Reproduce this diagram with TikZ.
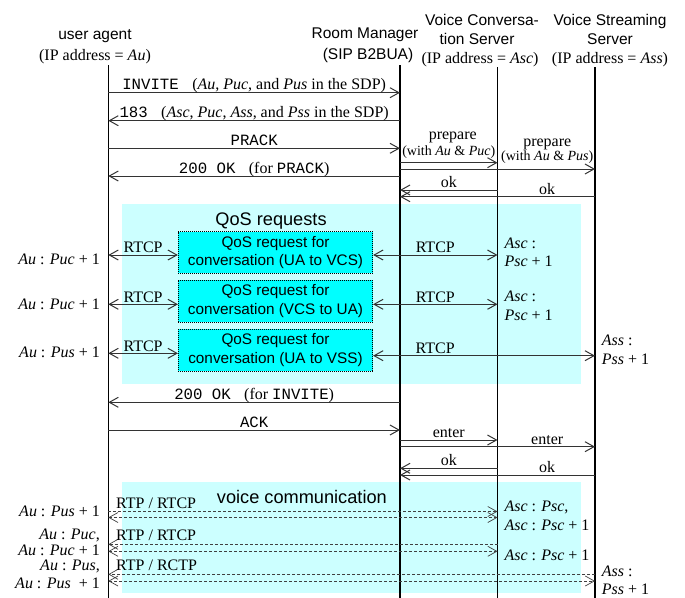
\documentclass[tikz,border=0pt]{standalone}
\usepackage{fontspec}
\setmainfont{Liberation Serif}
\setsansfont{Liberation Sans}
\setmonofont{Liberation Mono}
\usepackage{xcolor}
\usetikzlibrary{arrows.meta}

\definecolor{areabg}{HTML}{CCFFFF}
\definecolor{qosfill}{HTML}{00FFFF}
\newcommand{\sipmsg}[1]{{\fontsize{15.7}{19}\ttfamily #1}}

\tikzset{
  lifeline/.style={line width=1.5pt},
  msg/.style={line width=1pt, draw=black!80},
  rtp/.style={line width=0.7pt, draw=black!75, dash pattern=on 3pt off 2pt},
  headtxt/.style={anchor=base, inner sep=0pt, font=\fontsize{15.5}{18}\sffamily},
  addrtxt/.style={anchor=base, inner sep=0pt, font=\fontsize{16}{19}\selectfont},
  lbl/.style={anchor=base, inner sep=0pt, yshift=3pt, font=\fontsize{16}{19}\selectfont},
  smalllbl/.style={anchor=base, inner sep=0pt, font=\fontsize{14}{16}\selectfont},
  portL/.style={anchor=base east, inner sep=0pt, font=\fontsize{16}{19}\selectfont},
  portR/.style={anchor=base west, inner sep=0pt, font=\fontsize{16}{19}\selectfont},
  areatitle/.style={anchor=base, inner sep=0pt, font=\fontsize{18.2}{21}\sffamily},
  qosbox/.style={draw, fill=qosfill, line width=0.8pt, dash pattern=on 1pt off 1pt,
    minimum width=194.4pt, inner sep=0pt, align=center,
    font=\fontsize{15.3}{18.4}\sffamily}
}

\begin{document}
\begin{tikzpicture}[x=1pt, y=-1pt, >={Straight Barb[length=9pt,width=10pt]}]
  \useasboundingbox (0,0) rectangle (685,597);

  % shaded areas
  \fill[areabg] (121.7,204) rectangle (580.7,384.3);
  \fill[areabg] (121.7,482.3) rectangle (580.7,593.3);
  \node[areatitle] (qosTitle) at (271,225.7) {QoS requests};
  \node[areatitle, anchor=base west] (voiceTitle) at (216.7,503.3) {voice communication};

  % lifelines
  \coordinate (ua) at (108.3,65);
  \coordinate (rm) at (400,65);
  \coordinate (vcs) at (497.5,67);
  \coordinate (vss) at (595,67);
  \coordinate (bottom) at (0,600);
  \foreach \l in {ua,rm,vcs,vss}
    \draw[lifeline] (\l) -- (\l |- bottom);

  % headers
  \node[headtxt] (uaName) at (95,39.3) {user agent};
  \node[addrtxt] (uaAddr) at (95,60) {(IP address = \textit{Au})};
  \node[headtxt] (rmName) at (365,38.3) {Room Manager};
  \node[headtxt] (rmKind) at (368,59.3) {(SIP B2BUA)};
  \node[headtxt] (vcsName) at (482,25) {Voice Conversa-};
  \node[headtxt] (vcsName2) at (477,44.3) {tion Server};
  \node[addrtxt] (vcsAddr) at (480,63.3) {(IP address = \textit{Asc})};
  \node[headtxt] (vssName) at (610,25) {Voice Streaming};
  \node[headtxt] (vssName2) at (610,44.3) {Server};
  \node[addrtxt] (vssAddr) at (610,63.3) {(IP address = \textit{Ass})};

  % rows
  \foreach \n/\y in {mInvite/92.7, m183/120.7, mPrack/148.3, mPrep1/162.7, mPrep2/169,
      m200a/176, mOk1/190, mOk2/196.7, mQ1/255, mQ2/304.3, mQ3/353.3, mQ3r/355.7,
      m200b/402.3, mAck/430, mEnter1/440, mEnter2/446.7, mOk3/468.3, mOk4/475,
      mV1/511.5, mV2/517.5, mV3/544.3, mV4/551.3, mV5/574.3, mV6/581}
    \coordinate (\n) at (0,\y);

  % session setup
  \draw[msg,->] (ua |- mInvite) -- (rm |- mInvite)
    node[lbl, midway] (lInvite) {\sipmsg{INVITE }\ (\textit{Au}, \textit{Puc}, and \textit{Pus} in the SDP)};
  \draw[msg,->] (rm |- m183) -- (ua |- m183)
    node[lbl, midway] (l183) {\sipmsg{183 }\ (\textit{Asc}, \textit{Puc}, \textit{Ass}, and \textit{Pss} in the SDP)};
  \draw[msg,->] (ua |- mPrack) -- (rm |- mPrack)
    node[lbl, midway] (lPrack) {\sipmsg{PRACK}};
  \draw[msg,->] (rm |- mPrep1) -- (vcs |- mPrep1)
    node[smalllbl, midway, yshift=7.7pt] (lWith1) {(with \textit{Au} \& \textit{Puc})}
    node[lbl, midway, xshift=4pt, yshift=20.4pt] (lPrep1) {prepare};
  \draw[msg,->] (rm |- mPrep2) -- (vss |- mPrep2)
    node[smalllbl, pos=0.755, yshift=8.3pt] (lWith2) {(with \textit{Au} \& \textit{Pus})}
    node[lbl, pos=0.755, yshift=19.3pt] (lPrep2) {prepare};
  \draw[msg,->] (rm |- m200a) -- (ua |- m200a)
    node[lbl, midway] (l200a) {\sipmsg{200 OK }\ (for \sipmsg{PRACK})};
  \draw[msg,->] (vcs |- mOk1) -- (rm |- mOk1)
    node[lbl, midway] (lOk1) {ok};
  \draw[msg,->] (vss |- mOk2) -- (rm |- mOk2)
    node[lbl, pos=0.246, yshift=-0.5pt] (lOk2) {ok};

  % QoS requests
  \node[qosbox, minimum height=41.6pt] (box1) at (275.5,252.5) {QoS request for\\conversation (UA to VCS)};
  \node[qosbox, minimum height=42.3pt] (box2) at (275.5,301.2) {QoS request for\\conversation (VCS to UA)};
  \node[qosbox, minimum height=41.7pt] (box3) at (275.5,350.2) {QoS request for\\conversation (UA to VSS)};
  \draw[msg,<->] (ua |- mQ1) -- (box1.west |- mQ1) node[lbl, midway, yshift=-0.7pt] (rtcpA1) {RTCP};
  \draw[msg,<->] (ua |- mQ2) -- (box2.west |- mQ2) node[lbl, midway, yshift=-0.7pt] (rtcpA2) {RTCP};
  \draw[msg,<->] (ua |- mQ3) -- (box3.west |- mQ3) node[lbl, midway, yshift=-0.7pt] (rtcpA3) {RTCP};
  \draw[msg,<->] (box1.east |- mQ1) -- (vcs |- mQ1) node[lbl, midway, yshift=-0.7pt] (rtcpB1) {RTCP};
  \draw[msg,<->] (box2.east |- mQ2) -- (vcs |- mQ2) node[lbl, midway, yshift=-0.7pt] (rtcpB2) {RTCP};
  \draw[msg,<->] (box3.east |- mQ3r) -- (vss |- mQ3r) node[lbl, pos=0.28, yshift=-0.6pt] (rtcpB3) {RTCP};
  \node[portL] (pA1) at (100,264) {\textit{Au} : \textit{Puc} + 1};
  \node[portL] (pA2) at (100,309) {\textit{Au} : \textit{Puc} + 1};
  \node[portL] (pA3) at (100,357.7) {\textit{Au} : \textit{Pus} + 1};
  \node[portR] (pB1) at (504.3,248.3) {\textit{Asc} :};
  \node[portR] (pB1b) at (504.3,266) {\textit{Psc} + 1};
  \node[portR] (pB2) at (504.3,301) {\textit{Asc} :};
  \node[portR] (pB2b) at (504.3,320) {\textit{Psc} + 1};
  \node[portR] (pC3) at (601.7,345) {\textit{Ass} :};
  \node[portR] (pC3b) at (601.7,364) {\textit{Pss} + 1};

  % session start
  \draw[msg,->] (rm |- m200b) -- (ua |- m200b)
    node[lbl, midway] (l200b) {\sipmsg{200 OK }\ (for \sipmsg{INVITE})};
  \draw[msg,->] (ua |- mAck) -- (rm |- mAck)
    node[lbl, midway] (lAck) {\sipmsg{ACK}};
  \draw[msg,->] (rm |- mEnter1) -- (vcs |- mEnter1)
    node[lbl, midway, yshift=-0.3pt] (lEnter1) {enter};
  \draw[msg,->] (rm |- mEnter2) -- (vss |- mEnter2)
    node[lbl, pos=0.755, yshift=-0.6pt] (lEnter2) {enter};
  \draw[msg,->] (vcs |- mOk3) -- (rm |- mOk3)
    node[lbl, midway] (lOk3) {ok};
  \draw[msg,->] (vss |- mOk4) -- (rm |- mOk4)
    node[lbl, pos=0.246, yshift=-0.5pt] (lOk4) {ok};

  % voice communication
  \draw[rtp,->] (ua |- mV1) -- (vcs |- mV1);
  \draw[rtp,<->] (ua |- mV2) -- (vcs |- mV2);
  \draw[rtp,->] (vcs |- mV3) -- (ua |- mV3);
  \draw[rtp,<->] (ua |- mV4) -- (vcs |- mV4);
  \draw[rtp,->] (vss |- mV5) -- (ua |- mV5);
  \draw[rtp,<->] (ua |- mV6) -- (vss |- mV6);
  \node[portR] (rtp1) at (116,508.3) {RTP / RTCP};
  \node[portR] (rtp2) at (116,540) {RTP / RTCP};
  \node[portR] (rtp3) at (116,570.7) {RTP / RCTP};
  \node[portL] (pV1) at (100,516.7) {\textit{Au} : \textit{Pus} + 1};
  \node[portL] (pV2) at (100,539) {\textit{Au} : \textit{Puc},};
  \node[portL] (pV2b) at (100,555.5) {\textit{Au} : \textit{Puc} + 1};
  \node[portL] (pV3) at (100,570.5) {\textit{Au} : \textit{Pus},};
  \node[portL] (pV3b) at (100,588) {\textit{Au} : \textit{Pus}\ \ + 1};
  \node[portR] (pW1) at (504.3,511) {\textit{Asc} : \textit{Psc},};
  \node[portR] (pW1b) at (504.3,530.7) {\textit{Asc} : \textit{Psc} + 1};
  \node[portR] (pW2) at (504.3,560) {\textit{Asc} : \textit{Psc} + 1};
  \node[portR] (pW3) at (601.7,576) {\textit{Ass} :};
  \node[portR] (pW3b) at (601.7,594.3) {\textit{Pss} + 1};
\end{tikzpicture}
\end{document}
